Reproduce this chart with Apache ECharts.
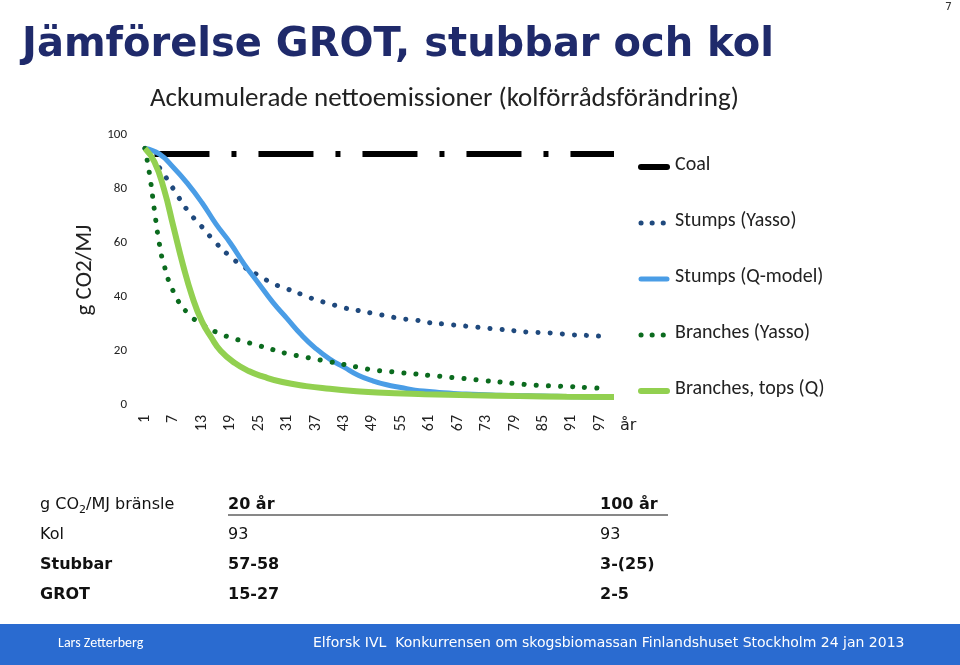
<!DOCTYPE html>
<html><head><meta charset="utf-8">
<script src="https://cdn.jsdelivr.net/npm/echarts@6/dist/echarts.min.js"></script>
<style>html,body{margin:0;padding:0;background:#fff}#c{width:960px;height:665px}</style>
</head><body><div id="c"></div>
<script>
const years = Array.from({length:100},(_,i)=>String(i+1));
const coal = [[3,93],[100,93]];
const stumpsYasso = [[1,95],[4,88],[7,80],[10,72],[13,66],[16,60],[19,55],[22,51],[25,48],[28,45],[31,43],[34,41],[37,39],[40,37.5],[43,36],[46,35],[49,34],[52,33],[55,32],[58,31.5],[61,30.5],[64,30],[67,29.5],[70,29],[73,28.5],[76,28],[79,27.5],[82,27],[85,26.8],[88,26.5],[91,26],[94,25.8],[97,25.5]];
const stumpsQ = [[1,95],[4,93],[7,88],[10,82],[13,75],[16,67],[19,60],[22,52],[25,45],[28,38],[31,32],[34,26],[37,21],[40,17],[43,14],[46,11],[49,9],[52,7.5],[55,6.5],[58,5.5],[61,5],[64,4.5],[67,4.2],[70,4],[73,3.8],[76,3.6],[79,3.5],[82,3.4],[85,3.3],[88,3.2],[91,3.1],[94,3],[97,3],[100,3]];
const branchesYasso = [[1,95],[2,85],[3,72],[4,60],[5,52],[7,42],[10,34],[13,30],[16,27],[19,25],[22,23.5],[25,22],[28,20.5],[31,19],[34,18],[37,17],[40,16],[43,15],[46,14],[49,13],[52,12.5],[55,12],[58,11.5],[61,11],[64,10.5],[67,10],[70,9.5],[73,9],[76,8.5],[79,8],[82,7.5],[85,7.2],[88,7],[91,6.8],[94,6.5],[97,6.2]];
const branchesQ = [[1,95],[3,90],[5,80],[7,66],[9,52],[11,40],[13,31],[15,25],[17,20],[20,15.5],[23,12.5],[26,10.5],[30,8.5],[35,7],[40,6],[45,5.2],[50,4.6],[60,4],[70,3.6],[80,3.3],[90,3.1],[100,3]];
const seriesNames = ['Coal','Stumps (Yasso)','Stumps (Q-model)','Branches (Yasso)','Branches, tops (Q)'];
const tableRows = [["g CO","20 år","100 år"],["Kol","93","93"],["Stubbar","57-58","3-(25)"],["GROT","15-27","2-5"]];

const toCat = a => a.map(p=>[String(p[0]),p[1]]);
const chart = echarts.init(document.getElementById('c'));
const dotted = (c)=>({color:c,width:5,type:[0.1,12],cap:'round'});
const styles = [
  {color:'#000',width:6,type:[55,22,5,22]},
  dotted('#1f497d'),
  {color:'#4a9de6',width:5},
  dotted('#0b6b1e'),
  {color:'#92d050',width:6}
];
const tf = '"DejaVu Sans", sans-serif';
const cf = 'Carlito, "Liberation Sans", sans-serif';
const g = [];
g.push({type:'text',left:22,top:26,style:{text:'Jämförelse GROT, stubbar och kol',font:'bold 40px '+tf,fill:'#1f2a6b'}});
g.push({type:'text',left:150,top:86,style:{text:'Ackumulerade nettoemissioner (kolförrådsförändring)',font:'27px '+cf,fill:'#222'}});
g.push({type:'text',right:8,top:2,style:{text:'7',font:'11px '+tf,fill:'#333'}});
g.push({type:'text',left:620,top:418,style:{text:'år',font:'16px '+tf,fill:'#222'}});
seriesNames.forEach((n,i)=>{
  const y=167+i*56;
  const st=styles[i];
  g.push({type:'line',shape:{x1:641,y1:y,x2:667,y2:y},style:{stroke:st.color,lineWidth:st.width,lineDash:i===0?null:(Array.isArray(st.type)?[0.1,11]:null),lineCap:'round'}});
  g.push({type:'text',left:675,top:y-12,style:{text:n,font:'20px '+cf,fill:'#222'}});
});
const ys=[507,537,567,597], xs=[40,228,600];
tableRows.forEach((r,i)=>{
  r.forEach((t,j)=>{
    const bold = (i===0&&j>0)||(i>=2);
    const style={font:(bold?'bold ':'')+'16px '+tf,fill:'#111',text:t};
    if(i===0&&j===0){style.text='{a|g CO}{s|2}{a|/MJ bränsle}';style.rich={a:{font:'16px '+tf,fill:'#111'},s:{font:'11px '+tf,fill:'#111',padding:[10,0,0,0]}};}
    g.push({type:'text',left:xs[j],top:ys[i]-10,style:style});
  });
});
g.push({type:'line',shape:{x1:228,y1:515,x2:668,y2:515},style:{stroke:'#111',lineWidth:1}});
g.push({type:'rect',shape:{x:0,y:624,width:960,height:41},style:{fill:'#2a6bd0'}});
g.push({type:'text',left:58,top:636,style:{text:'Lars Zetterberg',font:'14px '+cf,fill:'#fff'}});
g.push({type:'text',left:313,top:636,style:{text:'Elforsk IVL  Konkurrensen om skogsbiomassan Finlandshuset Stockholm 24 jan 2013',font:'14px '+tf,fill:'#fff'}});

chart.setOption({
  animation:false,
  grid:{left:145,right:346,top:135,bottom:260},
  xAxis:{type:'category',data:years,boundaryGap:false,axisLine:{show:false},axisTick:{show:false},
    axisLabel:{interval:5,rotate:90,fontSize:16,color:'#222',margin:10,fontFamily:cf}},
  yAxis:{type:'value',min:0,max:100,interval:20,name:'g CO2/MJ',nameLocation:'middle',nameGap:48,
    nameTextStyle:{fontSize:23,color:'#222',fontFamily:cf},axisLabel:{fontSize:13,color:'#222',margin:18,fontFamily:cf},splitLine:{show:false}},
  series:[
    {name:seriesNames[0],type:'line',data:toCat(coal),symbol:'none',lineStyle:styles[0]},
    {name:seriesNames[1],type:'line',smooth:true,data:toCat(stumpsYasso),symbol:'none',lineStyle:styles[1]},
    {name:seriesNames[2],type:'line',smooth:true,data:toCat(stumpsQ),symbol:'none',lineStyle:styles[2]},
    {name:seriesNames[3],type:'line',smooth:true,data:toCat(branchesYasso),symbol:'none',lineStyle:styles[3]},
    {name:seriesNames[4],type:'line',smooth:true,data:toCat(branchesQ),symbol:'none',lineStyle:styles[4]}
  ],
  graphic:g
});
</script></body></html>
